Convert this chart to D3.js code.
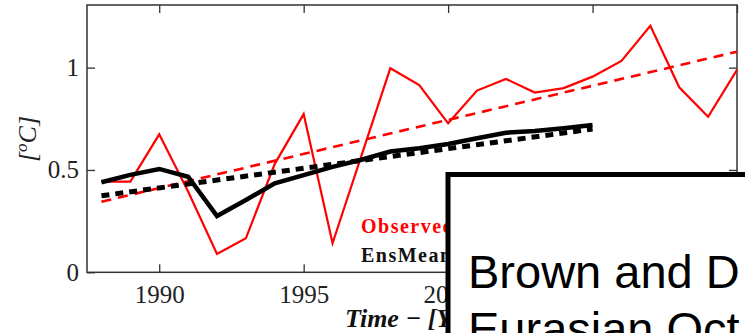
<!DOCTYPE html>
<html lang="en">
<head>
  <meta charset="UTF-8">
  <title>Observed vs EnsMean</title>
  <style>
    body { margin: 0; background: #fff; }
  </style>
</head>
<body>
  <script src="https://d3js.org/d3.v7.min.js"></script>
  <div id="my_dataviz"></div>
  <script>
  // values
  var years = d3.range(1988, 2011);
  var observed = [0.443, 0.443, 0.674, 0.395, 0.089, 0.166, 0.53, 0.773, 0.142, 0.57, 0.997,
                  0.915, 0.728, 0.888, 0.945, 0.878, 0.90, 0.956, 1.033, 1.204, 0.904, 0.76, 0.989];
  var ensYears = d3.range(1988, 2006);
  var ensMean = [0.44, 0.476, 0.505, 0.467, 0.275, 0.353, 0.435, 0.475, 0.515, 0.55, 0.59,
                 0.606, 0.627, 0.655, 0.682, 0.69, 0.704, 0.72];
  var obsTrend = [[1988, 0.345], [2010, 1.078]];
  var ensTrend = [[1988, 0.374], [2005, 0.70]];
  var xTicks = [1990, 1995, 2000, 2005, 2010];
  var yTicks = [0, 0.5, 1];
  var legendLabels = ["Observed", "EnsMean"];
  var boxLines = ["Brown and D", "Eurasian Oct"];

  var width = 745, height = 333;
  var plot = {left: 87, right: 737, top: 5, bottom: 272.3};

  var svg = d3.select("#my_dataviz")
    .append("svg")
      .attr("width", width)
      .attr("height", height);

  var x = d3.scaleLinear()
    .domain([1987.5, 2010])
    .range([plot.left, plot.right]);
  var y = d3.scaleLinear()
    .domain([0, 1.306])
    .range([plot.bottom, plot.top]);

  var serif = "'Liberation Serif', 'Times New Roman', serif";

  // axes, ticks pointing inward
  svg.append("g")
    .attr("transform", "translate(0," + plot.bottom + ")")
    .call(d3.axisBottom(x).tickValues(xTicks).tickSize(-8).tickSizeOuter(0).tickPadding(13).tickFormat(d3.format("d")));
  svg.append("g")
    .attr("transform", "translate(0," + plot.top + ")")
    .call(d3.axisTop(x).tickValues(xTicks).tickSize(-8).tickSizeOuter(0).tickFormat(""));
  svg.append("g")
    .attr("transform", "translate(" + plot.left + ",0)")
    .call(d3.axisLeft(y).tickValues(yTicks).tickSize(-8).tickSizeOuter(0).tickPadding(8).tickFormat(d3.format("")));
  svg.append("g")
    .attr("transform", "translate(" + plot.right + ",0)")
    .call(d3.axisRight(y).tickValues(yTicks).tickSize(-8).tickSizeOuter(0).tickFormat(""));

  svg.selectAll(".domain").remove();
  svg.selectAll(".tick line").attr("stroke", "#333").attr("stroke-width", 1.3);
  svg.selectAll(".tick text")
    .attr("fill", "#222")
    .style("font-family", serif)
    .style("font-size", "25px");

  svg.append("rect")
    .attr("x", plot.left)
    .attr("y", plot.top)
    .attr("width", plot.right - plot.left)
    .attr("height", plot.bottom - plot.top)
    .attr("fill", "none")
    .attr("stroke", "#333")
    .attr("stroke-width", 1.5);

  var line = d3.line()
    .x(function(d) { return x(d[0]); })
    .y(function(d) { return y(d[1]); });

  svg.append("path")
    .datum(years.map(function(yr, i) { return [yr, observed[i]]; }))
    .attr("d", line)
    .attr("fill", "none")
    .attr("stroke", "#ff0000")
    .attr("stroke-width", 2.2);

  svg.append("path")
    .datum(obsTrend)
    .attr("d", line)
    .attr("fill", "none")
    .attr("stroke", "#ff0000")
    .attr("stroke-width", 2.6)
    .attr("stroke-dasharray", "10,7");

  svg.append("path")
    .datum(ensYears.map(function(yr, i) { return [yr, ensMean[i]]; }))
    .attr("d", line)
    .attr("fill", "none")
    .attr("stroke", "#000")
    .attr("stroke-width", 4.5);

  svg.append("path")
    .datum(ensTrend)
    .attr("d", line)
    .attr("fill", "none")
    .attr("stroke", "#000")
    .attr("stroke-width", 5)
    .attr("stroke-dasharray", "8,6");

  // legend text
  svg.selectAll(".legend")
    .data(legendLabels)
    .enter().append("text")
      .attr("class", "legend")
      .attr("x", 361)
      .attr("y", function(d, i) { return 233 + i * 29; })
      .attr("fill", function(d, i) { return i == 0 ? "#ff0000" : "#111"; })
      .style("font-family", serif)
      .style("font-weight", "bold")
      .style("font-size", "20px")
      .style("letter-spacing", "1.5px")
      .text(function(d) { return d; });

  // axis titles
  svg.append("text")
    .attr("x", 345)
    .attr("y", 327)
    .attr("fill", "#111")
    .style("font-family", serif)
    .style("font-style", "italic")
    .style("font-weight", "bold")
    .style("font-size", "26px")
    .text("Time \u2212 [Years]");

  var ylab = svg.append("text")
    .attr("transform", "translate(36,139) rotate(-90)")
    .attr("text-anchor", "middle")
    .attr("fill", "#222")
    .style("font-family", serif)
    .style("font-style", "italic")
    .style("font-size", "26px");
  ylab.append("tspan").text("[");
  ylab.append("tspan").attr("dy", -9).style("font-size", "17px").text("o");
  ylab.append("tspan").attr("dy", 9).text("C]");

  // overlay box on top of the chart
  svg.append("rect")
    .attr("x", 448)
    .attr("y", 174.5)
    .attr("width", 400)
    .attr("height", 300)
    .attr("fill", "#fff")
    .attr("stroke", "#000")
    .attr("stroke-width", 5);

  svg.selectAll(".boxline")
    .data(boxLines)
    .enter().append("text")
      .attr("class", "boxline")
      .attr("x", 468)
      .attr("y", function(d, i) { return 288 + i * 57; })
      .attr("fill", "#000")
      .style("font-family", "'Liberation Sans', Arial, sans-serif")
      .style("font-size", "47px")
      .text(function(d) { return d; });
  </script>
</body>
</html>
